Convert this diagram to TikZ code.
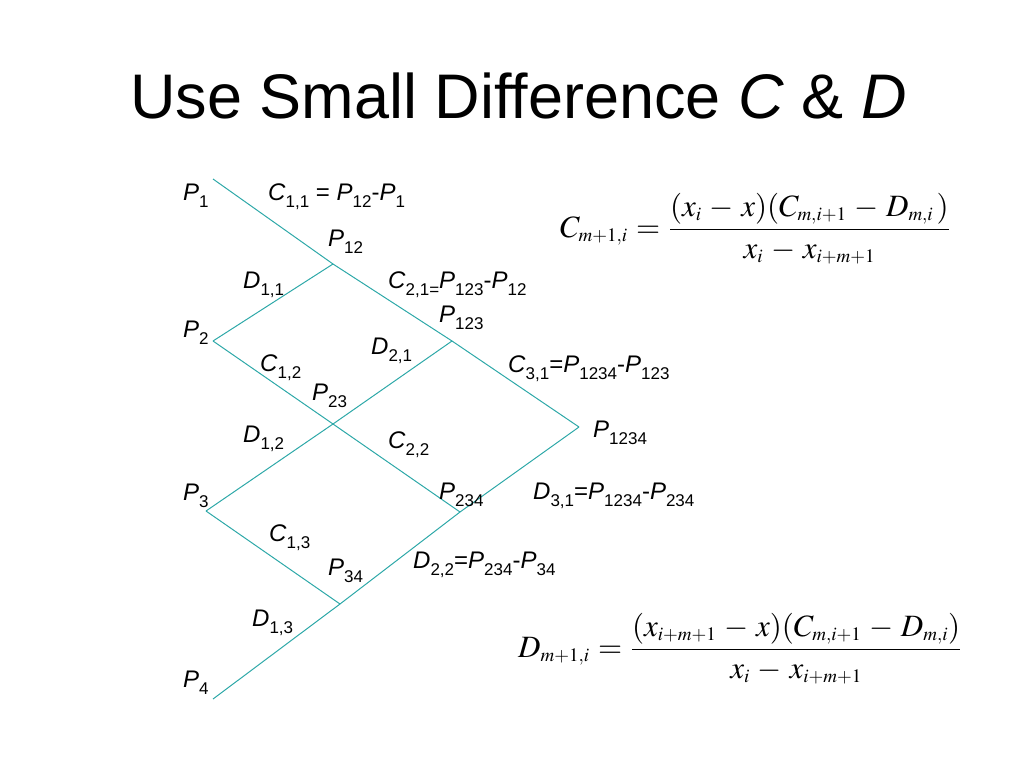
\documentclass[tikz,border=0pt]{standalone}
\usepackage{mathptmx}
\usepackage{fontspec}
\setmainfont{Liberation Sans}
\usepackage{xcolor}
\definecolor{latticeteal}{RGB}{45,168,168}
\DeclareMathSizes{31}{31}{19}{14}

% label with upright, lowered subscript
\newcommand{\lsub}[1]{\raisebox{-0.3em}{\fontsize{17}{17}\selectfont #1}}
\newcommand{\lbl}[2]{\textit{#1}\lsub{#2}}
\newcommand{\widemath}{\medmuskip=4.5mu\relax\thickmuskip=5mu\relax}

\begin{document}
\begin{tikzpicture}[x=1pt,y=-1pt,
    lattice/.style={draw=latticeteal, line width=1pt},
    tag/.style={anchor=base west, inner sep=0pt, font=\fontsize{24}{24}\selectfont},
    formula/.style={anchor=base west, inner sep=0pt, font=\fontsize{31}{31}\selectfont}]
    \useasboundingbox (0,0) rectangle (1024,768);

    % Lattice points
    \coordinate (p1) at (213,179);
    \coordinate (p2) at (213,341);
    \coordinate (p3) at (206,511);
    \coordinate (p4) at (213,699);
    \coordinate (p12) at (333,264);
    \coordinate (p23) at (333,424);
    \coordinate (p34) at (340,604);
    \coordinate (p123) at (452,341);
    \coordinate (p234) at (460,512);
    \coordinate (p1234) at (579,427);

    % Lattice lines
    \draw[lattice] (p1) -- (p12) -- (p123) -- (p1234);
    \draw[lattice] (p4) -- (p34) -- (p234) -- (p1234);
    \draw[lattice] (p2) -- (p12);
    \draw[lattice] (p2) -- (p23) -- (p234);
    \draw[lattice] (p3) -- (p23) -- (p123);
    \draw[lattice] (p3) -- (p34);

    % Title
    \node[anchor=base west, inner sep=0pt, font=\fontsize{63}{63}\selectfont] (title) at (130,118)
        {Use Small Difference \textit{C} \& \textit{D}};

    % Labels
    \node[tag] (P1) at (183,200) {\lbl{P}{1}};
    \node[tag] (P2) at (183,337) {\lbl{P}{2}};
    \node[tag] (P3) at (183,500) {\lbl{P}{3}};
    \node[tag] (P4) at (183,687) {\lbl{P}{4}};
    \node[tag] (P12) at (328,246) {\lbl{P}{12}};
    \node[tag] (P23) at (312,400) {\lbl{P}{23}};
    \node[tag] (P34) at (328,575) {\lbl{P}{34}};
    \node[tag] (P123) at (439,322) {\lbl{P}{123}};
    \node[tag] (P234) at (439,499) {\lbl{P}{234}};
    \node[tag] (P1234) at (593,437) {\lbl{P}{1234}};
    \node[tag] (C11) at (268,200) {\lbl{C}{1,1} = \lbl{P}{12}-\lbl{P}{1}};
    \node[tag] (C12) at (260,371) {\lbl{C}{1,2}};
    \node[tag] (C13) at (269,541) {\lbl{C}{1,3}};
    \node[tag] (C21) at (388,288) {\lbl{C}{2,1=}\lbl{P}{123}-\lbl{P}{12}};
    \node[tag] (C22) at (388,448) {\lbl{C}{2,2}};
    \node[tag] (C31) at (508,372) {\lbl{C}{3,1}=\lbl{P}{1234}-\lbl{P}{123}};
    \node[tag] (D11) at (243,288) {\lbl{D}{1,1}};
    \node[tag] (D12) at (243,442) {\lbl{D}{1,2}};
    \node[tag] (D13) at (252,626) {\lbl{D}{1,3}};
    \node[tag] (D21) at (371,354) {\lbl{D}{2,1}};
    \node[tag] (D22) at (413,568) {\lbl{D}{2,2}=\lbl{P}{234}-\lbl{P}{34}};
    \node[tag] (D31) at (533,499) {\lbl{D}{3,1}=\lbl{P}{1234}-\lbl{P}{234}};

    % Formulas
    \node[formula] (Cformula) at (560,237)
        {$\widemath C_{m+1,i}=\displaystyle\frac{(x_i-x)(C_{m,i+1}-D_{m,i}\,)}{x_i-x_{i+m+1}}$};
    \node[formula] (Dformula) at (518,657)
        {$\widemath D_{m+1,i}=\displaystyle\frac{(x_{i+m+1}-x)(C_{m,i+1}-D_{m,i})}{x_i-x_{i+m+1}}$};
\end{tikzpicture}
\end{document}
